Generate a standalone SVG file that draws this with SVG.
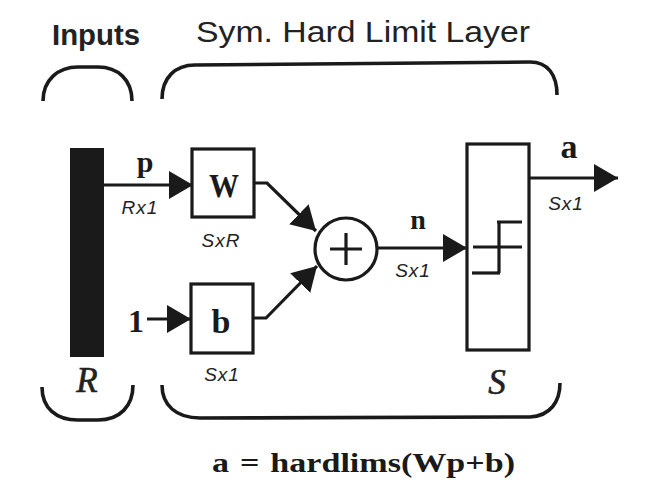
<svg xmlns="http://www.w3.org/2000/svg" width="646" height="498" viewBox="0 0 646 498">
<defs>
<style>
.ln{stroke:#1a1a1a;stroke-width:3.2;fill:none}
.br{stroke:#1a1a1a;stroke-width:3.6;fill:none}
.box{stroke:#1a1a1a;stroke-width:3.2;fill:#fff}
.hd{font-family:"Liberation Sans",Arial,sans-serif;font-size:30px;fill:#222}
.var{font-family:"Liberation Serif","Times New Roman",serif;font-weight:bold;fill:#1a1a1a}
.dim{font-family:"Liberation Sans",Arial,sans-serif;font-style:italic;font-size:19px;fill:#222}
.it{font-family:"Liberation Serif","Times New Roman",serif;font-style:italic;font-size:35px;fill:#222;stroke:#222;stroke-width:0.6}
</style>
<marker id="ah" viewBox="0 0 10 10" refX="10" refY="5" markerWidth="24" markerHeight="28" markerUnits="userSpaceOnUse" orient="auto" preserveAspectRatio="none">
<path d="M0,0 L10,5 L0,10 z" fill="#1a1a1a"/>
</marker>
</defs>
<rect width="646" height="498" fill="#fff"/>
<g id="headers">
<text class="hd" x="52" y="45" font-weight="bold" textLength="88" lengthAdjust="spacingAndGlyphs">Inputs</text>
<text class="hd" x="196" y="42" textLength="334" lengthAdjust="spacingAndGlyphs">Sym. Hard Limit Layer</text>
</g>
<g id="braces">
<path class="br" d="M43,101 C43,80 58,67 78,67 L98,67 C118,67 132,80 132,101"/>
<path class="br" d="M162,99 C162,78 175,65 195,65 L530,62 C548,62 557,75 557,95"/>
<path class="br" d="M42,387 C42,408 56,420 78,420 L98,420 C120,420 133,406 133,385"/>
<path class="br" d="M162,385 C162,405 176,418 200,418 L530,417 C550,416 560,402 560,383"/>
</g>
<g id="inputs">
<rect x="70" y="148" width="34" height="209" fill="#1a1a1a"/>
<text class="it" x="87" y="392" text-anchor="middle">R</text>
</g>
<g id="W">
<rect class="box" x="192" y="149" width="62" height="68"/>
<text class="var" x="224" y="197" font-size="34" text-anchor="middle" textLength="30" lengthAdjust="spacingAndGlyphs">W</text>
<text class="dim" x="221" y="247" text-anchor="middle" letter-spacing="1">SxR</text>
</g>
<g id="b">
<rect class="box" x="191" y="284" width="62" height="69"/>
<text class="var" x="221" y="333" font-size="34" text-anchor="middle">b</text>
<text class="dim" x="222" y="381" text-anchor="middle" letter-spacing="1">Sx1</text>
</g>
<g id="sum">
<circle class="box" cx="346" cy="249" r="31"/>
<path class="ln" d="M330,249 H362 M346,233 V265"/>
</g>
<g id="hardlims">
<rect class="box" x="467" y="144" width="62" height="206"/>
<path class="ln" d="M473,247 H522 M497,222 H522 M499,222 V273"/>
<path class="ln" d="M472,273 H500" stroke-width="4.5"/>
<text class="it" x="497" y="394" text-anchor="middle">S</text>
</g>
<g id="connectors">
<path class="ln" d="M104,185 H193" marker-end="url(#ah)"/>
<path class="ln" d="M147,319 H191" marker-end="url(#ah)"/>
<path class="ln" d="M254,183 H267 L316,231" marker-end="url(#ah)"/>
<path class="ln" d="M253,318 H266 L317,266" marker-end="url(#ah)"/>
<path class="ln" d="M377,248 H467" marker-end="url(#ah)"/>
<path class="ln" d="M529,178 H618" marker-end="url(#ah)"/>
</g>
<g id="labels">
<text class="var" x="145" y="172" font-size="30" text-anchor="middle">p</text>
<text class="dim" x="140" y="214" text-anchor="middle" letter-spacing="1">Rx1</text>
<text class="var" x="136" y="332" font-size="32" text-anchor="middle">1</text>
<text class="var" x="418" y="229" font-size="28" text-anchor="middle">n</text>
<text class="dim" x="413" y="277" text-anchor="middle" letter-spacing="1">Sx1</text>
<text class="var" x="569" y="158" font-size="34" text-anchor="middle">a</text>
<text class="dim" x="566" y="210" text-anchor="middle" letter-spacing="1">Sx1</text>
</g>
<g id="formula">
<text class="var" x="212" y="472" font-size="28" textLength="303" lengthAdjust="spacingAndGlyphs" word-spacing="2">a = hardlims(Wp+b)</text>
</g>
</svg>
